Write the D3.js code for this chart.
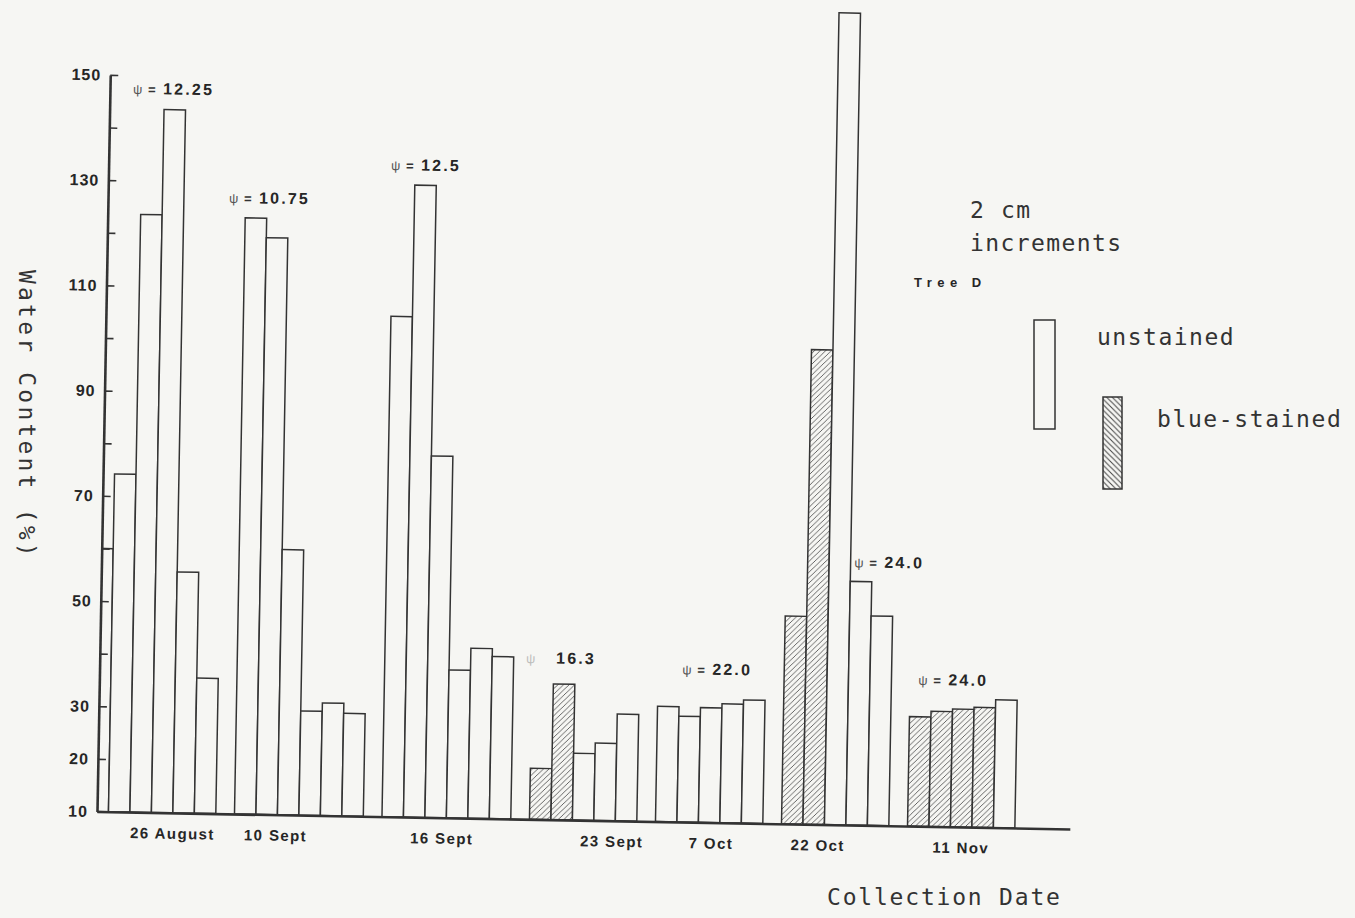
<!DOCTYPE html>
<html>
<head>
<meta charset="utf-8">
<script src="https://cdn.jsdelivr.net/npm/d3@7"></script>
<style>
  html, body { margin: 0; padding: 0; background: #f6f6f3; }
  svg { display: block; }
</style>
</head>
<body>
<svg id="chart" width="1355" height="918"></svg>
<script>
// ---- data: water content (%) of successive 2 cm increments, Tree D ----
const dates = ["26 August", "10 Sept", "16 Sept", "23 Sept", "7 Oct", "22 Oct", "11 Nov"];

const waterContent = [
  [60, 74.2, 123.6, 143.6, 55.8, 35.7],
  [123.3, 119.6, 60.4, 29.8, 31.4, 29.5],
  [105.1, 130.1, 78.7, 38.1, 42.3, 40.8],
  [19.7, 35.8, 22.7, 24.7, 30.3],
  [31.9, 30.1, 31.8, 32.6, 33.4],
  [49.5, 100.2, 164.3, 56.3, 49.8],
  [30.8, 31.9, 32.4, 32.8, 34.3]
];

// 1 = blue-stained increment, 0 = unstained
const blueStained = [
  [0, 0, 0, 0, 0, 0],
  [0, 0, 0, 0, 0, 0],
  [0, 0, 0, 0, 0, 0],
  [1, 1, 0, 0, 0],
  [0, 0, 0, 0, 0],
  [1, 1, 0, 0, 0],
  [1, 1, 1, 1, 0]
];

// water potential noted above each collection
const psiValues = ["12.25", "10.75", "12.5", "16.3", "22.0", "24.0", "24.0"];

const yTicks = [10, 20, 30, 40, 50, 60, 70, 80, 90, 100, 110, 120, 130, 140, 150];
const yTickLabels = [10, 20, 30, 50, 70, 90, 110, 130, 150];

// ---- layout ----
const GAP = 0.87;                       // gap between collections, in bar widths
const noteAt = [[1.54, 146.5], [-0.77, 126.1], [-0.12, 132.9], [-0.29, 39.7],
                [1.12, 38.1], [3.17, 59], [0.38, 36.9]];   // [bar offset, y level]
const labelShift = [1.0, -1.07, -0.2, 1.35, 0.1, -0.8, 0]; // date label offset, bar widths
const fadedNote = 3;                    // symbol and "=" barely printed on this one

const ink = "#333";
const paper = "#f6f6f3";
const sans = "'Liberation Sans', Arial, Helvetica, sans-serif";
const mono = "'DejaVu Sans Mono', monospace";

const svg = d3.select("#chart");
svg.append("rect").attr("width", 1355).attr("height", 918).attr("fill", paper);

const defs = svg.append("defs");
defs.append("pattern").attr("id", "hatch").attr("patternUnits", "userSpaceOnUse")
  .attr("width", 5.5).attr("height", 5.5)
  .call(p => {
    p.append("rect").attr("width", 5.5).attr("height", 5.5).attr("fill", paper);
    p.append("path").attr("d", "M-1,6.5 L6.5,-1 M-2,2 L2,-2 M3.5,7.5 L7.5,3.5")
      .attr("stroke", "#555").attr("stroke-width", 0.9);
  });
defs.append("pattern").attr("id", "hatchBack").attr("patternUnits", "userSpaceOnUse")
  .attr("width", 5.5).attr("height", 5.5)
  .call(p => {
    p.append("rect").attr("width", 5.5).attr("height", 5.5).attr("fill", paper);
    p.append("path").attr("d", "M-1,-1 L6.5,6.5 M-2,3.5 L2,7.5 M3.5,-2 L7.5,2")
      .attr("stroke", "#444").attr("stroke-width", 1);
  });

// the plotted sheet sits slightly askew
const ox = 97, oy = 811.5;
const plotG = svg.append("g").attr("transform", `rotate(1.03, ${ox}, ${oy})`);

defs.append("clipPath").attr("id", "plotClip")
  .append("rect").attr("x", ox).attr("y", -200).attr("width", 1100).attr("height", oy + 200);

// group positions in bar units
const groups = dates.map((d, i) => ({ date: d, i, values: waterContent[i], stained: blueStained[i] }));
let cursor = 0;
groups.forEach((g, i) => {
  g.start = cursor;
  cursor += g.values.length + (i < groups.length - 1 ? GAP : 0);
});
const totalUnits = cursor;

const x = d3.scaleLinear().domain([0, totalUnits]).range([87, 1015]);
const y = d3.scaleLinear().domain([10, 150]).range([oy, 74.8]);
const barW = x(1) - x(0);

const bars = groups.flatMap(g => g.values.map((v, j) => ({ v, st: g.stained[j], u: g.start + j })));

plotG.append("g").attr("clip-path", "url(#plotClip)")
  .selectAll("rect").data(bars).join("rect")
  .attr("x", d => x(d.u))
  .attr("width", barW)
  .attr("y", d => y(d.v))
  .attr("height", d => y(10) - y(d.v))
  .attr("fill", d => d.st ? "url(#hatch)" : paper)
  .attr("stroke", ink)
  .attr("stroke-width", 1.5);

// y axis: ticks point inward, labels at left
const yAxis = d3.axisLeft(y)
  .tickValues(yTicks)
  .tickSizeInner(-8)
  .tickSizeOuter(0)
  .tickPadding(9)
  .tickFormat(d => yTickLabels.includes(d) ? d : "");
const yG = plotG.append("g").attr("transform", `translate(${ox},0)`).call(yAxis);
yG.select(".domain").attr("stroke", ink).attr("stroke-width", 2.6);
yG.selectAll(".tick line").attr("stroke", ink).attr("stroke-width", 1.6);
yG.selectAll(".tick text")
  .attr("font-family", sans).attr("font-weight", "bold").attr("font-size", 16)
  .attr("letter-spacing", "1px").attr("fill", "#262626");

// x axis baseline
const xAxisScale = d3.scaleLinear().domain([0, 1]).range([ox, 1070]);
const xG = plotG.append("g").attr("transform", `translate(0,${y(10)})`)
  .call(d3.axisBottom(xAxisScale).tickValues([]).tickSizeOuter(0));
xG.select(".domain").attr("stroke", ink).attr("stroke-width", 2.6);

// collection date labels
plotG.append("g").selectAll("text").data(groups).join("text")
  .attr("x", g => x(g.start + g.values.length / 2 + labelShift[g.i]))
  .attr("y", y(10) + 26)
  .attr("text-anchor", "middle")
  .attr("font-family", sans).attr("font-weight", "bold").attr("font-size", 15)
  .attr("letter-spacing", "1.4px").attr("fill", "#262626")
  .text(g => g.date);

// water potential notes
const notes = plotG.append("g").selectAll("g").data(groups).join("g")
  .attr("transform", g => `translate(${x(g.start + noteAt[g.i][0])},${y(noteAt[g.i][1])})`);
notes.append("text")
  .attr("font-family", sans).attr("font-size", 13).attr("fill", "#555")
  .attr("opacity", g => g.i === fadedNote ? 0.35 : 1)
  .text("ψ");
notes.append("text").attr("x", 15)
  .attr("font-family", sans).attr("font-weight", "bold").attr("font-size", 13).attr("fill", "#333")
  .attr("opacity", g => g.i === fadedNote ? 0 : 1)
  .text("=");
notes.append("text").attr("x", 30)
  .attr("font-family", sans).attr("font-weight", "bold").attr("font-size", 16)
  .attr("letter-spacing", "2.2px").attr("fill", "#262626")
  .text(g => psiValues[g.i]);

// axis titles
svg.append("text")
  .attr("transform", "translate(19,270) rotate(90)")
  .attr("font-family", mono).attr("font-size", 23).attr("letter-spacing", "3.2px")
  .attr("fill", "#333")
  .text("Water Content (%)");

svg.append("text")
  .attr("x", 827).attr("y", 905)
  .attr("font-family", mono).attr("font-size", 23).attr("letter-spacing", "1.8px")
  .attr("fill", "#333")
  .text("Collection Date");

// legend
const legend = svg.append("g");
legend.append("text").attr("x", 970).attr("y", 218)
  .attr("font-family", mono).attr("font-size", 23).attr("letter-spacing", "1.6px").attr("fill", "#333")
  .text("2 cm");
legend.append("text").attr("x", 970).attr("y", 251)
  .attr("font-family", mono).attr("font-size", 23).attr("letter-spacing", "1.4px").attr("fill", "#333")
  .text("increments");
legend.append("text").attr("x", 914).attr("y", 287)
  .attr("font-family", sans).attr("font-weight", "bold").attr("font-size", 13)
  .attr("letter-spacing", "5.5px").attr("fill", "#262626")
  .text("Tree D");

legend.append("rect").attr("x", 1034).attr("y", 320).attr("width", 21).attr("height", 109)
  .attr("fill", paper).attr("stroke", ink).attr("stroke-width", 1.5);
legend.append("text").attr("x", 1097).attr("y", 345)
  .attr("font-family", mono).attr("font-size", 23).attr("letter-spacing", "1.5px").attr("fill", "#333")
  .text("unstained");

legend.append("rect").attr("x", 1103).attr("y", 397).attr("width", 19).attr("height", 92)
  .attr("fill", "url(#hatchBack)").attr("stroke", ink).attr("stroke-width", 1.5);
legend.append("text").attr("x", 1157).attr("y", 427)
  .attr("font-family", mono).attr("font-size", 23).attr("letter-spacing", "1.6px").attr("fill", "#333")
  .text("blue-stained");
</script>
</body>
</html>
